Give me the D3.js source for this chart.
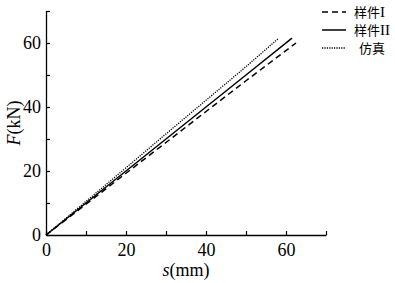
<!DOCTYPE html>
<html><head><meta charset="utf-8">
<script src="https://cdn.jsdelivr.net/npm/d3@7"></script>
<style>body{margin:0;background:#fff}svg{display:block}
.serif{font-family:"Liberation Serif","DejaVu Serif",serif}
</style>
</head><body>
<svg id="c" width="395" height="283"></svg>
<script>
const seriesNames = ["样件", "样件", "仿真"];
const seriesSuffix = ["I", "II", ""];
const sDashed = [0, 10, 20, 30, 40, 50, 62.5];
const fDashed = [0, 9.6, 19.3, 28.9, 38.6, 48.2, 60];
const sSolid = [0, 10, 20, 30, 40, 50, 61.5];
const fSolid = [0, 10.0, 20.0, 30.0, 40.0, 50.0, 61.5];
const sDotted = [0, 10, 20, 30, 40, 50, 58];
const fDotted = [0, 10.5, 21.0, 31.6, 42.1, 52.6, 61.3];
const xTicks = [0, 10, 20, 30, 40, 50, 60, 70];
const yTicks = [0, 10, 20, 30, 40, 50, 60, 70];

const svg = d3.select("#c");
const x = d3.scaleLinear().domain([0, 70]).range([46, 326]);
const y = d3.scaleLinear().domain([0, 70]).range([235, 11]);

const xAxis = d3.axisBottom(x).tickValues(xTicks).tickSizeInner(-4).tickSizeOuter(0)
  .tickFormat(d => d % 20 === 0 ? d : "");
const gx = svg.append("g").attr("transform", "translate(0,235)").call(xAxis)
  .attr("font-family", null).attr("font-size", null);
gx.selectAll("text").attr("dy", "0.71em").attr("y", 8).attr("class", "serif").style("font-size", "18px").attr("fill", "#000");

const yAxis = d3.axisLeft(y).tickValues(yTicks).tickSizeInner(-4).tickSizeOuter(0)
  .tickFormat(d => d % 20 === 0 ? d : "");
const gy = svg.append("g").attr("transform", "translate(46,0)").call(yAxis)
  .attr("font-family", null).attr("font-size", null);
gy.selectAll("text").attr("x", -5).attr("class", "serif").style("font-size", "18px").attr("fill", "#000");
svg.selectAll(".domain").attr("stroke", "#000").attr("stroke-width", 1.3);
svg.selectAll(".tick line").attr("stroke", "#000").attr("stroke-width", 1.2);

const line = d3.line().x(d => x(d[0])).y(d => y(d[1]));
const series = [
  {s: sDashed, f: fDashed, dash: "6,4", w: 1.5},
  {s: sSolid, f: fSolid, dash: null, w: 1.5},
  {s: sDotted, f: fDotted, dash: "1.2,1.2", w: 1.3}
];
series.forEach(se => {
  svg.append("path").datum(se.s.map((v, i) => [v, se.f[i]]))
    .attr("d", line).attr("fill", "none").attr("stroke", "#000")
    .attr("stroke-width", se.w).attr("stroke-dasharray", se.dash);
});

// legend
const lg = svg.append("g");
series.forEach((se, i) => {
  const yy = 12 + i * 18;
  lg.append("line").attr("x1", 322).attr("x2", 346).attr("y1", yy).attr("y2", yy)
    .attr("stroke", "#000").attr("stroke-width", se.w).attr("stroke-dasharray", se.dash);
  const t = lg.append("text").attr("x", i === 2 ? 359 : 354).attr("y", yy).attr("dy", "0.35em")
    .style("font-size", "13px");
  t.append("tspan").style("font-family", "'Noto Sans CJK SC',sans-serif").text(seriesNames[i]);
  if (seriesSuffix[i]) t.append("tspan").attr("class", "serif").style("font-size", "15px").text(seriesSuffix[i]);
});

// axis titles
svg.append("text").attr("transform", "translate(20,123) rotate(-90)").attr("text-anchor", "middle")
  .attr("class", "serif").style("font-size", "18px")
  .html('<tspan font-style="italic">F</tspan>(kN)');
svg.append("text").attr("x", 186).attr("y", 276).attr("text-anchor", "middle")
  .attr("class", "serif").style("font-size", "18px")
  .html('<tspan font-style="italic">s</tspan>(mm)');
</script>
</body></html>
